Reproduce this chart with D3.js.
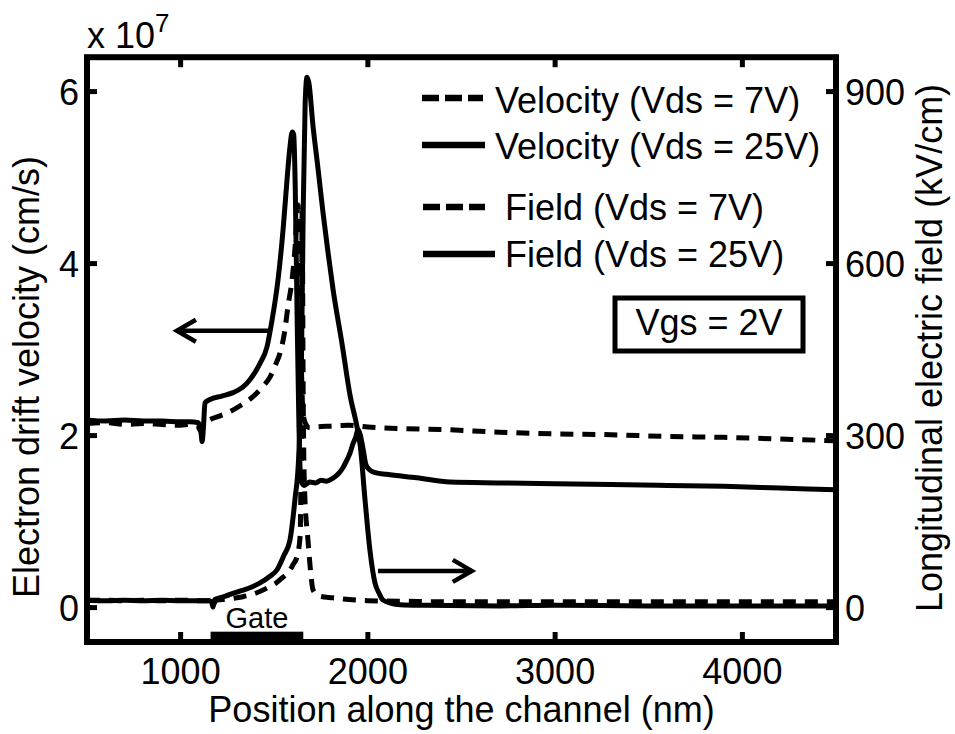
<!DOCTYPE html>
<html>
<head>
<meta charset="utf-8">
<script src="https://cdn.jsdelivr.net/npm/d3@7"></script>
<style>
  body { margin: 0; background: #fff; }
  svg text { font-family: Arial, "Liberation Sans", Helvetica, sans-serif; fill: #000; }
</style>
</head>
<body>
<svg id="chart" width="955" height="734"></svg>
<script>
// velocity in units of 1e7 cm/s, field in kV/cm, position in nm
const vel7Pos = [500, 600, 700, 800, 900, 1000, 1050, 1090, 1105, 1115, 1130, 1160, 1210, 1265, 1320, 1385, 1430, 1477, 1510, 1531, 1557, 1573, 1595, 1611, 1621, 1627, 1636, 1645, 1654, 1665, 1690, 1720, 1800, 1900, 2000, 2200, 2400, 2700, 3000, 3300, 3600, 3900, 4200, 4500];
const vel7 = [2.14, 2.15, 2.13, 2.14, 2.13, 2.12, 2.13, 2.12, 2.06, 2.10, 2.15, 2.19, 2.23, 2.28, 2.35, 2.45, 2.55, 2.68, 2.84, 2.96, 3.23, 3.50, 3.81, 4.19, 4.55, 4.68, 4.00, 2.80, 2.26, 2.15, 2.09, 2.10, 2.11, 2.12, 2.10, 2.08, 2.07, 2.04, 2.02, 2.01, 1.99, 1.98, 1.96, 1.94];

const vel25Pos = [500, 600, 700, 800, 900, 1000, 1050, 1095, 1108, 1115, 1122, 1130, 1157, 1220, 1280, 1330, 1370, 1424, 1461, 1488, 1520, 1547, 1568, 1584, 1596, 1604, 1612, 1622, 1632, 1642, 1660, 1690, 1720, 1750, 1780, 1810, 1840, 1865, 1889, 1905, 1921, 1935, 1947, 1958, 1974, 1990, 2010, 2040, 2100, 2262, 2439, 2706, 3000, 3300, 3600, 3900, 4200, 4500];
const vel25 = [2.18, 2.17, 2.18, 2.17, 2.17, 2.16, 2.16, 2.15, 2.05, 1.93, 2.10, 2.38, 2.42, 2.46, 2.50, 2.56, 2.65, 2.84, 3.03, 3.34, 3.81, 4.39, 4.97, 5.36, 5.53, 5.50, 4.90, 3.40, 2.10, 1.48, 1.42, 1.46, 1.45, 1.48, 1.47, 1.50, 1.55, 1.62, 1.72, 1.80, 1.91, 1.98, 2.07, 2.02, 1.85, 1.66, 1.60, 1.57, 1.55, 1.51, 1.46, 1.45, 1.44, 1.43, 1.42, 1.41, 1.39, 1.37];

const field7Pos = [500, 600, 700, 800, 900, 1000, 1100, 1150, 1165, 1175, 1185, 1220, 1280, 1333, 1400, 1461, 1510, 1547, 1580, 1600, 1621, 1638, 1644, 1649, 1655, 1662, 1680, 1695, 1707, 1740, 1814, 1900, 2000, 2200, 2500, 3000, 3500, 4000, 4500];
const field7 = [13, 13, 12, 13, 12, 13, 12, 12, 8, 2, 12, 14, 16, 19, 25, 34, 43, 53, 63, 75, 88, 124, 300, 690, 350, 205, 118, 60, 31, 20, 17, 14, 12, 11, 10, 10, 10, 10, 10];

const field25Pos = [500, 600, 700, 800, 900, 1000, 1100, 1150, 1165, 1173, 1182, 1200, 1240, 1280, 1330, 1380, 1424, 1470, 1515, 1550, 1584, 1611, 1630, 1645, 1655, 1665, 1675, 1685, 1707, 1734, 1760, 1787, 1814, 1862, 1905, 1942, 1960, 1985, 2011, 2038, 2060, 2081, 2120, 2172, 2300, 2706, 3000, 3500, 4000, 4500];
const field25 = [13, 12, 13, 12, 13, 12, 12, 12, 10, 1, 14, 16, 20, 25, 30, 36, 43, 53, 66, 90, 118, 190, 260, 420, 700, 880, 925, 915, 840, 765, 690, 620, 555, 460, 370, 315, 280, 187, 100, 43, 25, 13, 8, 5, 4, 3, 4, 3, 3, 3];

const xTicks = [1000, 2000, 3000, 4000];
const velTicks = [0, 2, 4, 6];
const fieldTicks = [0, 300, 600, 900];

const legendLabels = ['Velocity (Vds = 7V)', 'Velocity (Vds = 25V)', 'Field (Vds = 7V)', 'Field (Vds = 25V)'];
const gateSpan = [1160, 1655];

const svg = d3.select('#chart');
const font = 36;

const x = d3.scaleLinear().domain([500, 4500]).range([87, 836]);
const yL = d3.scaleLinear().domain([-0.4, 6.4]).range([642, 57.2]);
const yR = d3.scaleLinear().domain([-60, 960]).range([642, 57.2]);

function series(pos, vals, y) {
    return pos.map((p, i) => [x(p), y(vals[i])]);
}

const lineGen = d3.line().curve(d3.curveMonotoneX);

const curves = [
    { pts: series(vel7Pos, vel7, yL), dash: '13,9' },
    { pts: series(vel25Pos, vel25, yL), dash: null },
    { pts: series(field7Pos, field7, yR), dash: '13,9' },
    { pts: series(field25Pos, field25, yR), dash: null }
];

curves.forEach((c) => {
    svg.append('path')
        .attr('d', lineGen(c.pts))
        .attr('fill', 'none')
        .attr('stroke', '#000')
        .attr('stroke-width', 5)
        .attr('stroke-linejoin', 'round')
        .attr('stroke-dasharray', c.dash);
});

// gate bar
svg.append('rect')
    .attr('x', x(gateSpan[0]))
    .attr('y', yL(-0.28))
    .attr('width', x(gateSpan[1]) - x(gateSpan[0]))
    .attr('height', yL(-0.4) - yL(-0.28))
    .attr('fill', '#000');
svg.append('text')
    .attr('x', x((gateSpan[0] + gateSpan[1]) / 2))
    .attr('y', 628)
    .attr('text-anchor', 'middle')
    .attr('font-size', 29)
    .text('Gate');

// arrows
function arrow(xa, xb, yv, dir) {
    const g = svg.append('g')
        .attr('fill', 'none')
        .attr('stroke', '#000')
        .attr('stroke-width', 4.5);
    g.append('line')
        .attr('x1', x(xa)).attr('x2', x(xb))
        .attr('y1', yv).attr('y2', yv);
    const tip = x(xb);
    g.append('path')
        .attr('d', `M${tip - dir * 19},${yv - 11} L${tip},${yv} L${tip - dir * 19},${yv + 11}`)
        .attr('stroke-linejoin', 'miter');
}
arrow(1467, 980, yL(3.22), -1);
arrow(2054, 2555, yR(64), 1);

// tick labels
const pLeft = x(500), pRight = x(4500), pTop = yL(6.4), pBottom = yL(-0.4);
xTicks.forEach((t) => {
    svg.append('text')
        .attr('x', x(t))
        .attr('y', 684)
        .attr('text-anchor', 'middle')
        .attr('font-size', font)
        .text(t);
});
velTicks.forEach((t) => {
    svg.append('text')
        .attr('x', pLeft - 8)
        .attr('y', yL(t))
        .attr('dy', '0.36em')
        .attr('text-anchor', 'end')
        .attr('font-size', font)
        .text(t);
});
fieldTicks.forEach((t) => {
    svg.append('text')
        .attr('x', pRight + 9)
        .attr('y', yR(t))
        .attr('dy', '0.36em')
        .attr('font-size', font)
        .text(t);
});

// axis labels
svg.append('text')
    .attr('x', (pLeft + pRight) / 2)
    .attr('y', 722)
    .attr('text-anchor', 'middle')
    .attr('font-size', font)
    .text('Position along the channel (nm)');

svg.append('text')
    .attr('transform', 'translate(39,377) rotate(-90)')
    .attr('text-anchor', 'middle')
    .attr('font-size', font)
    .text('Electron drift velocity (cm/s)');

svg.append('text')
    .attr('transform', 'translate(942,348) rotate(-90)')
    .attr('text-anchor', 'middle')
    .attr('font-size', font)
    .text('Longitudinal electric field (kV/cm)');

const mult = svg.append('text')
    .attr('x', 87)
    .attr('y', 48)
    .attr('font-size', font)
    .text('x 10');
mult.append('tspan')
    .attr('font-size', 26)
    .attr('dy', -16)
    .text('7');

// legend
const legendRows = [
    { x1: 422, x2: 483, ly: 98, tx: 495, ty: 113, dash: '17,6' },
    { x1: 422, x2: 485, ly: 145, tx: 495, ty: 159, dash: null },
    { x1: 423, x2: 485, ly: 207, tx: 505, ty: 220, dash: '17,6' },
    { x1: 423, x2: 495, ly: 254, tx: 505, ty: 267, dash: null }
];
legendRows.forEach((r, i) => {
    svg.append('line')
        .attr('x1', r.x1).attr('x2', r.x2)
        .attr('y1', r.ly).attr('y2', r.ly)
        .attr('stroke', '#000')
        .attr('stroke-width', 6.5)
        .attr('stroke-dasharray', r.dash);
    svg.append('text')
        .attr('x', r.tx)
        .attr('y', r.ty)
        .attr('font-size', font)
        .text(legendLabels[i]);
});

svg.append('rect')
    .attr('x', 615).attr('y', 298)
    .attr('width', 188).attr('height', 53)
    .attr('fill', '#fff')
    .attr('stroke', '#000')
    .attr('stroke-width', 5);
svg.append('text')
    .attr('x', 709)
    .attr('y', 335)
    .attr('text-anchor', 'middle')
    .attr('font-size', font)
    .text('Vgs = 2V');

// plot frame and tick marks, drawn last so nothing covers them
const frameBox = svg.append('rect')
    .attr('x', pLeft).attr('y', pTop)
    .attr('width', pRight - pLeft)
    .attr('height', pBottom - pTop)
    .attr('fill', 'none')
    .attr('stroke', '#000')
    .attr('stroke-width', 6);

const tickLen = 10;
const ticks = svg.append('g').attr('fill', '#000');
xTicks.forEach((t) => {
    ticks.append('rect').attr('x', x(t) - 2.5).attr('y', pBottom - tickLen).attr('width', 5).attr('height', tickLen);
    ticks.append('rect').attr('x', x(t) - 2.5).attr('y', pTop).attr('width', 5).attr('height', tickLen);
});
velTicks.forEach((t) => {
    ticks.append('rect').attr('x', pLeft).attr('y', yL(t) - 2.5).attr('width', tickLen).attr('height', 5);
});
fieldTicks.forEach((t) => {
    ticks.append('rect').attr('x', pRight - tickLen).attr('y', yR(t) - 2.5).attr('width', tickLen).attr('height', 5);
});
</script>
</body>
</html>
